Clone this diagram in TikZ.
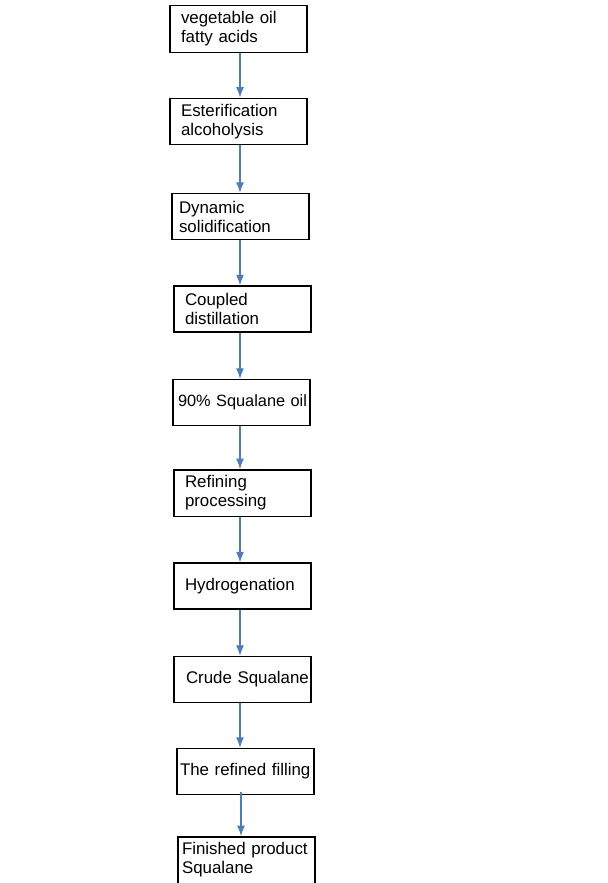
\documentclass[tikz,border=0pt]{standalone}
\usepackage{fontspec}
\setmainfont{Liberation Sans}
\usepackage{xcolor}
\usepackage{tikz}
\usetikzlibrary{arrows.meta}

\definecolor{flowblue}{HTML}{4A7EBB}

\tikzset{
  stage/.style={draw, line width=0.8pt, minimum height=0.92cm, text width=2.3cm,
    inner xsep=0.22cm, align=left, font=\fontsize{9.6}{10.8}\selectfont},
  snug/.style={text width=2.62cm, inner xsep=0.06cm},
  flow/.style={draw=flowblue, line width=0.6pt, -{Latex[length=6pt,width=4.5pt]}}
}

\begin{document}
\begin{tikzpicture}
\useasboundingbox[fill=white] (0,0) rectangle (12.16,-17.66);
\coordinate (spine) at (4.80,0);
\coordinate (spinelast) at (4.82,0);

\node[stage] (oil) at (4.77,-0.58) {vegetable oil\\fatty acids};
\node[stage] (ester) at (4.77,-2.43) {Esterification\\alcoholysis};
\node[stage, text width=2.46cm, inner xsep=0.14cm] (solid) at (4.81,-4.33) {Dynamic\\solidification};
\node[stage] (distil) at (4.85,-6.18) {Coupled\\distillation};
\node[stage, inner xsep=0.1cm, text width=2.54cm, font=\fontsize{9.3}{10.8}\selectfont] (crude90) at (4.83,-8.05) {\mbox{90\% Squalane oil}};
\node[stage] (refine) at (4.85,-9.86) {Refining\\processing};
\node[stage] (hydro) at (4.85,-11.72) {Hydrogenation};
\node[stage, inner xsep=0.24cm, text width=2.26cm] (crude) at (4.85,-13.59) {\mbox{Crude Squalane}};
\node[stage, snug] (fill) at (4.91,-15.43) {\mbox{The refined filling}};
\node[stage, inner xsep=0.08cm, text width=2.58cm] (product) at (4.93,-17.20) {\mbox{Finished product}\\Squalane};

\draw[flow] (oil.south -| spine) -- (ester.north -| spine);
\draw[flow] (ester.south -| spine) -- (solid.north -| spine);
\draw[flow] (solid.south -| spine) -- (distil.north -| spine);
\draw[flow] (distil.south -| spine) -- (crude90.north -| spine);
\draw[flow] (crude90.south -| spine) -- (refine.north -| spine);
\draw[flow] (refine.south -| spine) -- (hydro.north -| spine);
\draw[flow] (hydro.south -| spine) -- (crude.north -| spine);
\draw[flow] (crude.south -| spine) -- (fill.north -| spine);
\draw[flow] ([yshift=0.06cm]fill.south -| spinelast) -- (product.north -| spinelast);
\end{tikzpicture}
\end{document}
